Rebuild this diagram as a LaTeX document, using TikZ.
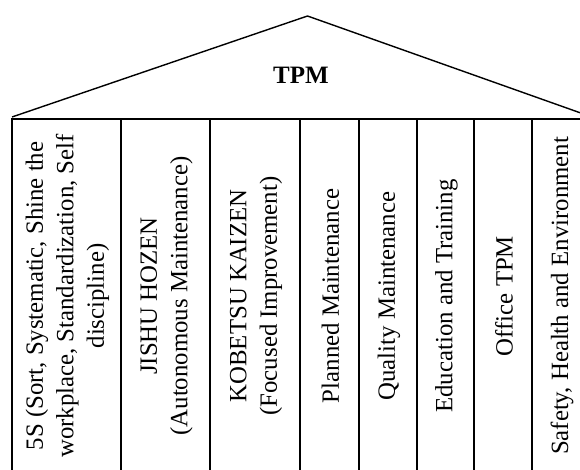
\documentclass[tikz,border=0pt]{standalone}
\usepackage{fontspec}
\setmainfont{Liberation Serif}
\begin{document}
\begin{tikzpicture}[x=1pt,y=-1pt,line width=1.8pt,
  pillar/.style={rotate=90,align=center,inner sep=0pt,font=\fontsize{24.8}{30.5}\selectfont}]
\useasboundingbox (0,0) rectangle (580,470);
\clip (0,0) rectangle (580,470);
\def\ptop{119}
\def\pbot{476}
% roof
\coordinate (eaveL) at (12,117);
\coordinate (apex) at (307.5,16);
\coordinate (eaveR) at (592,117);
\draw[line width=1.4pt] (eaveL) -- (apex) -- (eaveR);
\node[font=\fontsize{25}{30}\selectfont\bfseries] (tpm) at (301,75) {TPM};
% pillars
\draw (12,\ptop) rectangle (590,\pbot);
\foreach \x in {121,210,300,359,417,474,532}{
\draw (\x,\ptop) -- (\x,\pbot);
}
\foreach \a/\b/\txt [count=\i] in {
12/121/{5S (Sort, Systematic, Shine the\\workplace, Standardization, Self\\discipline)},
121/210/{JISHU HOZEN\\(Autonomous Maintenance)},
210/300/{KOBETSU KAIZEN\\(Focused Improvement)},
300/359/{Planned Maintenance},
359/417/{Quality Maintenance},
417/474/{Education and Training},
474/532/{Office TPM},
532/590/{Safety, Health and Environment}}{
\node[pillar] (p\i) at ({(\a+\b)/2+1},296) {\txt};
}
\end{tikzpicture}
\end{document}
